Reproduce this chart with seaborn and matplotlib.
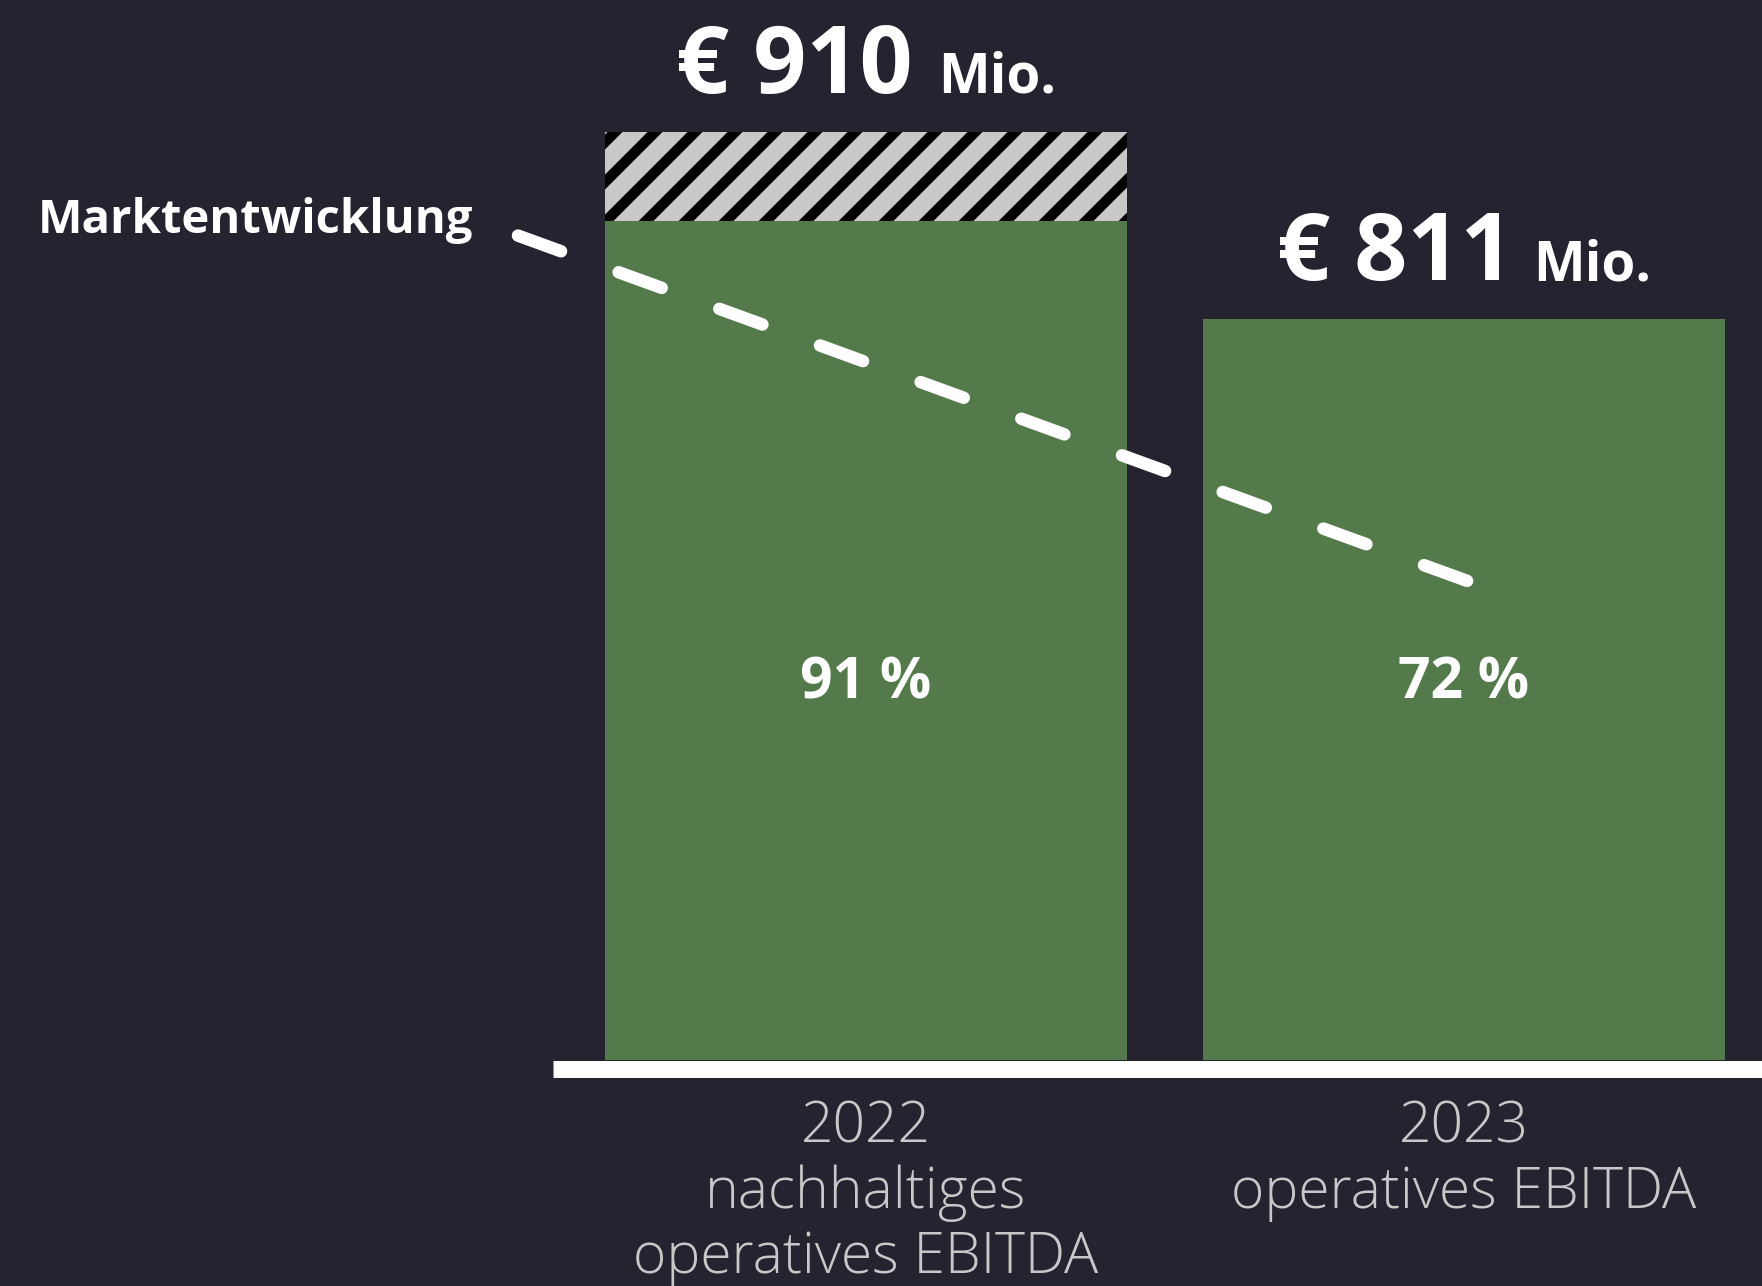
import numpy as np
import pandas as pd
import matplotlib
matplotlib.use("Agg")
import matplotlib.pyplot as plt
from matplotlib.lines import Line2D
from matplotlib.transforms import IdentityTransform
import seaborn as sns

# ---------------- data ----------------
categories = ["2022\nnachhaltiges\noperatives EBITDA", "2023\noperatives EBITDA"]
core_height = [822, 726]        # green part of each bar (picture scale)
market_effect = [88, 0]         # hatched "Marktentwicklung" part on top
value_labels = ["€ 910", "€ 811"]
unit_label = "Mio."
pct_labels = ["91 %", "72 %"]
trend_x = [-0.582, 1.008]
trend_y = [808, 469]
trend_label = "Marktentwicklung"

# ---------------- style ----------------
BG = "#262330"
GREEN = "#547A4B"
HATCH_BG = "#C8C8C6"
WHITE = "#FFFFFF"
TICK = "#C8C8C8"

sns.set_theme(style="white")
plt.rcParams["font.family"] = ["Open Sans", "DejaVu Sans"]

W, H, DPI = 1762, 1286, 100
PT = 72 / DPI  # points per pixel

fig = plt.figure(figsize=(W / DPI, H / DPI), dpi=DPI, facecolor=BG)
ax = fig.add_axes([0, (H - 1060) / H, 1, 1060 / H])
ax.set_facecolor(BG)

df = pd.DataFrame({
    "cat": categories,
    "core": core_height,
    "total": np.add(core_height, market_effect),
})

sns.barplot(data=df, x="cat", y="total", color=HATCH_BG, saturation=1,
            width=0.873, linewidth=0, ax=ax, zorder=2)
n_hatch = len(ax.patches)
sns.barplot(data=df, x="cat", y="core", color=GREEN, saturation=1,
            width=0.873, linewidth=0, ax=ax, zorder=3)

ax.set_xlim(-866 / 598, (W - 866) / 598)
ax.set_ylim(0, 1060 / 1.0203)

# diagonal stripes inside the hatched segments
for patch, extra in zip(ax.patches[:n_hatch], market_effect):
    if extra <= 0:
        continue
    bb = patch.get_window_extent()
    period = 40
    for c in np.arange(bb.y0 - bb.x1 - period, bb.y1 - bb.x0 + period, period):
        xs = np.array([bb.x0 - 200, bb.x1 + 200])
        ln = Line2D(xs, xs + c, transform=IdentityTransform(), color="black",
                    lw=10.5 * PT, solid_capstyle="butt", zorder=2.5)
        ax.add_artist(ln)
        ln.set_clip_box(None)
        ln.set_clip_path(patch)

# trend line
sns.lineplot(x=trend_x, y=trend_y, color=WHITE, lw=12.5 * PT,
             linestyle=(0, (3.67, 4.9)), dash_capstyle="round", ax=ax, zorder=5)

ax.text(-1.385, 810.5, trend_label, ha="left", va="baseline",
        fontsize=34, fontweight="bold", color=WHITE)

# percent labels
for i, p in enumerate(pct_labels):
    ax.text(i, 354, p, ha="center", va="baseline", fontsize=41,
            fontweight="bold", color=WHITE, zorder=6)

# spines / ticks
for s in ["left", "right", "top"]:
    ax.spines[s].set_visible(False)
sp = ax.spines["bottom"]
sp.set_visible(True)
sp.set_color(WHITE)
sp.set_linewidth(17 * PT)
sp.set_position(("outward", 8.5 * PT))
sp.set_bounds(-0.523, W)
sp.set_capstyle("butt")
ax.set_yticks([])
ax.set_xlabel("")
ax.set_ylabel("")
ax.tick_params(axis="x", length=0, pad=22, labelsize=41, labelcolor=TICK)
for lbl in ax.get_xticklabels():
    lbl.set_linespacing(1.18)
    lbl.set_fontweight("light")

# value labels: big number + smaller unit, centred above bar
fig.canvas.draw()
renderer = fig.canvas.get_renderer()
gaps = [26, 19]
for i, v in enumerate(value_labels):
    top = core_height[i] + market_effect[i]
    tb = ax.annotate(v, xy=(i, top), xytext=(0, 39 * PT), textcoords="offset points",
                     ha="left", va="baseline", fontsize=67, fontweight="bold", color=WHITE)
    ts = ax.annotate(unit_label, xy=(i, top), xytext=(0, 39 * PT), textcoords="offset points",
                     ha="left", va="baseline", fontsize=39.5, fontweight="bold", color=WHITE)
    wb = tb.get_window_extent(renderer).width
    ws = ts.get_window_extent(renderer).width
    total = wb + gaps[i] + ws
    tb.xyann = (-total / 2 * PT, 39 * PT)
    ts.xyann = ((-total / 2 + wb + gaps[i]) * PT, 39 * PT)

fig.savefig("out.png", dpi=DPI, facecolor=BG)
